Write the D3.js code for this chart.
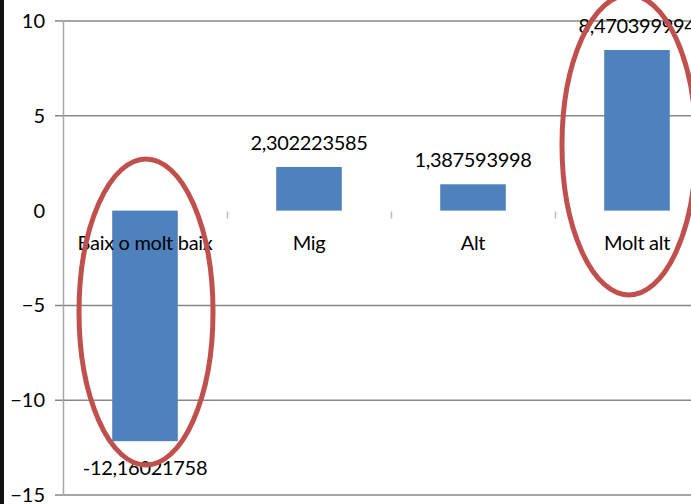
<!DOCTYPE html>
<html>
<head>
<meta charset="utf-8">
<script src="https://cdn.jsdelivr.net/npm/d3@7"></script>
<style>
    body { margin: 0; background: #fff; }
    svg { display: block; }
    text { font-family: Lato, "Open Sans", sans-serif; fill: #000; }
</style>
</head>
<body>
<svg id="chart"></svg>
<script>
// data
const categories = ['Baix o molt baix', 'Mig', 'Alt', 'Molt alt']
const values = [-12.16021758, 2.302223585, 1.387593998, 8.470399994]
const valueLabels = ['-12,16021758', '2,302223585', '1,387593998', '8,470399994']
const yTicks = [10, 5, 0, -5, -10, -15]
// categories circled in red
const highlighted = ['Baix o molt baix', 'Molt alt']

const width = 691
const height = 504

const svg = d3.select('#chart')
    .attr('width', width)
    .attr('height', height)

// plot area runs off the right edge, like the cropped original
const x = d3.scaleBand()
    .domain(categories)
    .range([63, 63 + 4 * 164])
    .paddingInner(0.6)
    .paddingOuter(0.3)

const y = d3.scaleLinear()
    .domain([-15, 10])
    .range([495, 21])

// left black strip
svg.append('rect')
    .attr('x', 0).attr('y', 0)
    .attr('width', 4).attr('height', height)
    .attr('fill', '#111')

// gridlines (zero line left out)
svg.append('g')
    .selectAll('line')
    .data(yTicks.filter(d => d !== 0))
    .join('line')
    .attr('x1', 55)
    .attr('x2', width)
    .attr('y1', d => y(d))
    .attr('y2', d => y(d))
    .attr('stroke', '#878787')
    .attr('stroke-width', 1.5)

// y axis
const yAxis = d3.axisLeft(y)
    .tickValues(yTicks)
    .tickSize(0)
    .tickPadding(18)
    .tickFormat(d3.format('d'))

svg.append('g')
    .attr('transform', 'translate(63,0)')
    .call(yAxis)
    .call(g => g.select('.domain').attr('stroke', '#a6a6a6').attr('stroke-width', 1.5))
    .call(g => g.selectAll('text')
        .attr('font-size', 20)
        .style('font-family', 'Lato, sans-serif')
        .attr('fill', '#000'))

// category tick marks at zero, between the groups
svg.append('g')
    .selectAll('line')
    .data(categories.slice(1))
    .join('line')
    .attr('x1', d => Math.round(x(d) - x.step() * x.paddingInner() / 2) + 0.5)
    .attr('x2', d => Math.round(x(d) - x.step() * x.paddingInner() / 2) + 0.5)
    .attr('y1', y(0) + 1)
    .attr('y2', y(0) + 8)
    .attr('stroke', '#bcbcbc')
    .attr('stroke-width', 1.5)

// bars
svg.append('g')
    .selectAll('rect')
    .data(values)
    .join('rect')
    .attr('x', (d, i) => x(categories[i]))
    .attr('width', x.bandwidth())
    .attr('y', d => y(Math.max(0, d)))
    .attr('height', d => Math.abs(y(d) - y(0)))
    .attr('fill', '#4f81bd')

// category labels
svg.append('g')
    .selectAll('text')
    .data(categories)
    .join('text')
    .attr('x', d => x(d) + x.bandwidth() / 2)
    .attr('y', 250)
    .attr('text-anchor', 'middle')
    .attr('font-size', 20)
    .attr('letter-spacing', -0.3)
    .attr('fill', '#222')
    .text(d => d)

// value labels
svg.append('g')
    .selectAll('text')
    .data(values)
    .join('text')
    .attr('x', (d, i) => x(categories[i]) + x.bandwidth() / 2)
    .attr('y', d => d < 0 ? y(d) + 34 : y(d) - 17)
    .attr('text-anchor', 'middle')
    .attr('font-size', 20)
    .attr('letter-spacing', -0.3)
    .text((d, i) => valueLabels[i])

// red ellipses around the extreme groups
const ellipseStyle = {
    'Baix o molt baix': { dx: 1, cy: 312, ry: 153 },
    'Molt alt': { dx: -8, cy: 145, ry: 150 }
}
svg.append('g')
    .selectAll('ellipse')
    .data(highlighted)
    .join('ellipse')
    .attr('cx', d => x(d) + x.bandwidth() / 2 + ellipseStyle[d].dx)
    .attr('cy', d => ellipseStyle[d].cy)
    .attr('rx', 67)
    .attr('ry', d => ellipseStyle[d].ry)
    .attr('fill', 'none')
    .attr('stroke', '#c0504d')
    .attr('stroke-width', 5)
</script>
</body>
</html>
